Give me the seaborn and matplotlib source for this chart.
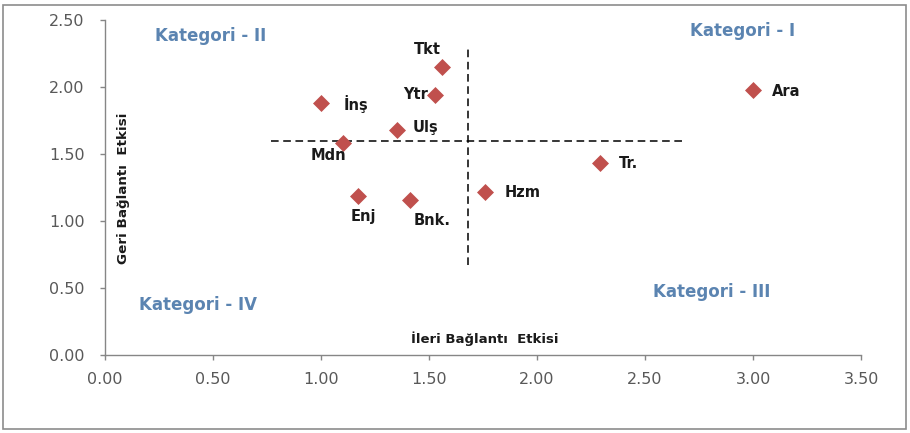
import pandas as pd
import matplotlib.pyplot as plt
import seaborn as sns
from matplotlib.patches import Rectangle

# sector data
sectors = ['İnş', 'Mdn', 'Ulş', 'Ytr', 'Tkt', 'Enj', 'Bnk.', 'Hzm', 'Tr.', 'Ara']
ileri = [1.00, 1.10, 1.35, 1.53, 1.56, 1.17, 1.41, 1.76, 2.29, 3.00]
geri = [1.88, 1.58, 1.68, 1.94, 2.15, 1.19, 1.16, 1.22, 1.43, 1.98]

# label placement (offset in px, horizontal alignment)
label_dx = [23, -14, 16, -7, -15, 6, 23, 19, 19, 19]
label_dy = [-1, -12, 2, 1, 17, -21, -21, -1, 0, -2]
label_ha = ['left', 'center', 'left', 'right', 'center', 'center', 'center', 'left', 'left', 'left']

categories = ['Kategori - I', 'Kategori - II', 'Kategori - III', 'Kategori - IV']
cat_x = [2.95, 0.49, 2.81, 0.43]
cat_y = [2.42, 2.38, 0.47, 0.37]

split_x = 1.68
split_y = 1.60

df = pd.DataFrame({'sector': sectors, 'ileri': ileri, 'geri': geri})

sns.set_style('ticks')
plt.rcParams['font.family'] = ['DejaVu Sans']

fig = plt.figure(figsize=(9.1, 4.33), dpi=100)
ax = fig.add_axes([105 / 910, 1 - 355 / 433, 756 / 910, 335 / 433])

sns.scatterplot(data=df, x='ileri', y='geri', marker='D', s=75, color='#C0504D',
                edgecolor='#C0504D', linewidth=0, ax=ax, zorder=3)

# quadrant split lines
ax.plot([0.77, 2.68], [split_y, split_y], ls=(0, (5, 3)), color='black', lw=1.1, zorder=2)
ax.plot([split_x, split_x], [0.67, 2.28], ls=(0, (5, 3)), color='black', lw=1.1, zorder=2)

for i in range(len(sectors)):
    ax.annotate(sectors[i], (ileri[i], geri[i]), xytext=(label_dx[i] * 0.72, label_dy[i] * 0.72),
                textcoords='offset points', ha=label_ha[i], va='center',
                fontsize=10.5, fontweight='bold', color='#1a1a1a')

for i in range(len(categories)):
    ax.text(cat_x[i], cat_y[i], categories[i], ha='center', va='center',
            fontsize=12, fontweight='bold', color='#5B84B1')

ax.text(1.76, 0.125, 'İleri Bağlantı  Etkisi', ha='center', va='center',
        fontsize=9.5, fontweight='bold', color='#1a1a1a')
ax.text(0.085, 1.245, 'Geri Bağlantı  Etkisi', ha='center', va='center', rotation=90,
        fontsize=9.7, fontweight='bold', color='#1a1a1a')

ax.set_xlim(0, 3.5)
ax.set_ylim(0, 2.5)
ax.set_xticks([0, 0.5, 1.0, 1.5, 2.0, 2.5, 3.0, 3.5])
ax.set_yticks([0, 0.5, 1.0, 1.5, 2.0, 2.5])
ax.xaxis.set_major_formatter(plt.FormatStrFormatter('%.2f'))
ax.yaxis.set_major_formatter(plt.FormatStrFormatter('%.2f'))
ax.set_xlabel('')
ax.set_ylabel('')
ax.tick_params(colors='#868686', labelcolor='#595959', labelsize=11.5, length=3.5, width=1)
ax.tick_params(axis='x', pad=9)
ax.tick_params(axis='y', pad=11)
sns.despine(ax=ax)
for side in ['left', 'bottom']:
    ax.spines[side].set_color('#868686')
    ax.spines[side].set_linewidth(1)

# outer chart frame
fig.add_artist(Rectangle((3 / 910, 4 / 433), 903 / 910, 424 / 433, transform=fig.transFigure,
                         fill=False, edgecolor='#8c8c8c', lw=1.2))

fig.savefig('out.png', dpi=100)
